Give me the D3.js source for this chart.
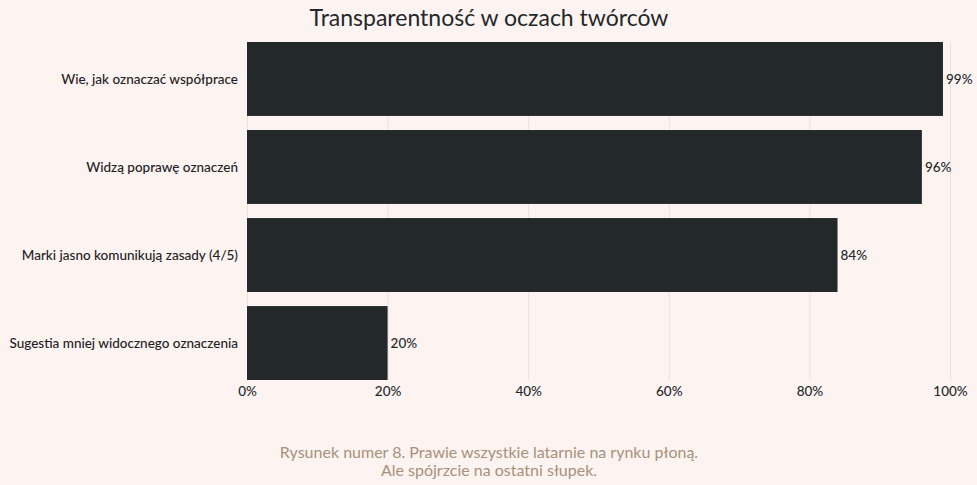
<!DOCTYPE html>
<html>
<head>
<meta charset="utf-8">
<script src="https://cdn.jsdelivr.net/npm/d3@7"></script>
<style>
  body { margin: 0; background: #fdf3f1; }
  svg { display: block; font-family: Lato, "Noto Sans", sans-serif; }
</style>
</head>
<body>
<script>
// chart data
var categories = ["Wie, jak oznaczać współprace", "Widzą poprawę oznaczeń", "Marki jasno komunikują zasady (4/5)", "Sugestia mniej widocznego oznaczenia"];
var values = [99, 96, 84, 20];
var ticks = [0, 20, 40, 60, 80, 100];
var title = "Transparentność w oczach twórców";
var caption = ["Rysunek numer 8. Prawie wszystkie latarnie na rynku płoną.", "Ale spójrzcie na ostatni słupek."];

var width = 977, height = 485;

var svg = d3.select("body").append("svg")
    .attr("width", width)
    .attr("height", height);

svg.append("rect").attr("width", width).attr("height", height).attr("fill", "#fdf3f1");

var x = d3.scaleLinear().domain([0, 100]).range([247, 950]);
var y = d3.scaleBand().domain(categories).range([42, 380]).paddingInner(0.16).paddingOuter(0);

// grid lines
svg.append("g").selectAll("line")
    .data(ticks)
    .enter().append("line")
    .attr("x1", function(d) { return x(d) + 0.5; })
    .attr("x2", function(d) { return x(d) + 0.5; })
    .attr("y1", 42)
    .attr("y2", 380)
    .attr("stroke", "#ebe0de")
    .attr("stroke-width", 1);

// bars
svg.append("g").selectAll("rect")
    .data(values)
    .enter().append("rect")
    .attr("x", x(0))
    .attr("y", function(d, i) { return y(categories[i]); })
    .attr("width", function(d) { return x(d) - x(0); })
    .attr("height", y.bandwidth())
    .attr("fill", "#23292b");

// value labels
svg.append("g").selectAll("text")
    .data(values)
    .enter().append("text")
    .attr("x", function(d) { return x(d) + 3; })
    .attr("y", function(d, i) { return y(categories[i]) + y.bandwidth() / 2; })
    .attr("dy", "0.35em")
    .attr("font-size", 13.5)
    .attr("font-weight", 500)
    .attr("fill", "#23292b")
    .text(function(d) { return d + "%"; });

// category labels
svg.append("g").selectAll("text")
    .data(categories)
    .enter().append("text")
    .attr("x", 238)
    .attr("y", function(d) { return y(d) + y.bandwidth() / 2; })
    .attr("dy", "0.35em")
    .attr("text-anchor", "end")
    .attr("font-size", 13.5)
    .attr("font-weight", 500)
    .attr("fill", "#1e2224")
    .text(function(d) { return d; });

// x axis tick labels
var xAxis = d3.axisBottom(x).tickValues(ticks).tickSize(0).tickPadding(6)
    .tickFormat(function(d) { return d + "%"; });
var gx = svg.append("g").attr("transform", "translate(0,380)").call(xAxis);
gx.select(".domain").remove();
gx.selectAll("text").attr("font-size", 13.5).attr("font-weight", 500).attr("fill", "#23292b").attr("font-family", "Lato, 'Noto Sans', sans-serif");

// title
svg.append("text")
    .attr("x", 489)
    .attr("y", 26)
    .attr("text-anchor", "middle")
    .attr("font-size", 23)
    .attr("fill", "#23292b")
    .text(title);

// caption
svg.append("g").selectAll("text")
    .data(caption)
    .enter().append("text")
    .attr("x", 489)
    .attr("y", function(d, i) { return 458 + i * 18; })
    .attr("text-anchor", "middle")
    .attr("font-size", 16)
    .attr("fill", "#a8917a")
    .text(function(d) { return d; });
</script>
</body>
</html>
